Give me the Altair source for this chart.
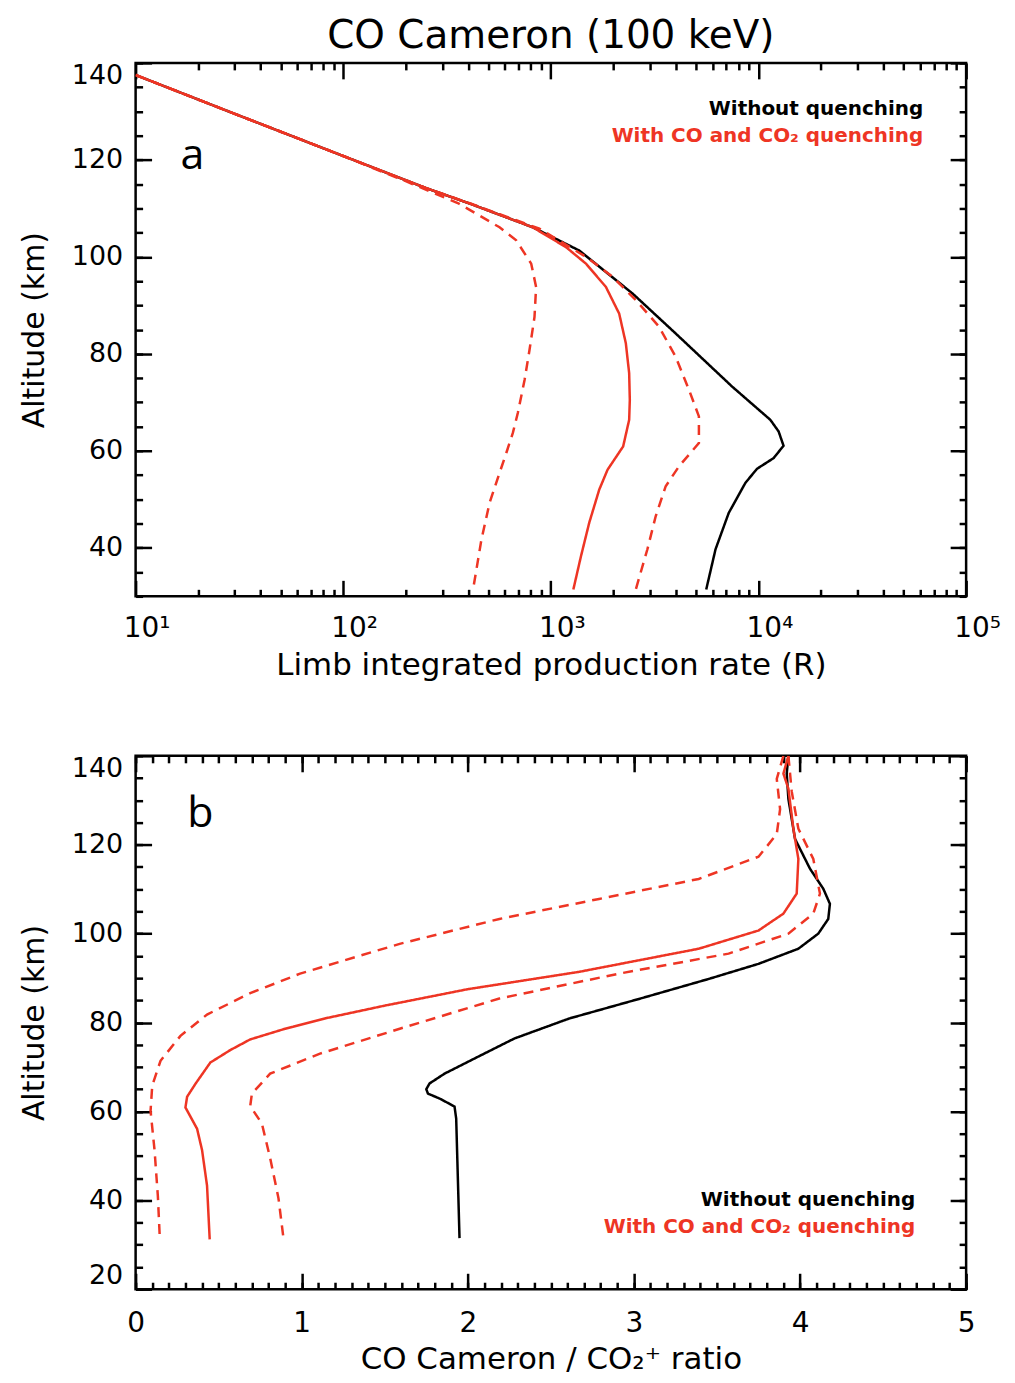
import altair as alt
import pandas as pd

# ---------------- Panel a: limb integrated production rate (R) ----------------
A_NOQ_X = [10, 30, 100, 250, 406, 818, 1371, 2473, 3991, 7464, 11400, 12500, 13200, 11830, 9840, 8650, 7190, 6210, 5600]
A_NOQ_Y = [137.5, 129.5, 120.8, 114.2, 111.0, 106.1, 101.3, 92.45, 84.2, 73.25, 66.4, 64.0, 61.05, 58.5, 56.3, 53.4, 47.2, 39.7, 31.4]

A_Q_X = [10, 30, 100, 250, 406, 818, 1183, 1476, 1841, 2133, 2296, 2383, 2400, 2383, 2229, 1875, 1710, 1531, 1397, 1283]
A_Q_Y = [137.5, 129.5, 120.8, 114.2, 111.0, 106.1, 102.0, 98.6, 93.8, 88.3, 82.2, 76.0, 70.5, 66.4, 60.9, 56.1, 52.0, 45.2, 38.3, 31.4]

A_QLO_X = [10, 30, 100, 200, 356, 566, 681, 804, 849, 834, 789, 747, 693, 656, 610, 566, 507, 463, 422]
A_QLO_Y = [137.5, 129.5, 120.8, 115.6, 111.1, 106.1, 103.4, 98.6, 93.8, 87.6, 80.8, 74.6, 67.8, 63.7, 59.55, 55.45, 49.3, 41.7, 31.4]

A_QHI_X = [10, 30, 100, 250, 410, 881, 1476, 1982, 2566, 3319, 3991, 4624, 5164, 5164, 4140, 3573, 3198, 2917, 2564]
A_QHI_Y = [137.5, 129.5, 120.8, 114.2, 111.0, 105.8, 100.0, 95.9, 91.1, 85.6, 79.4, 72.6, 67.1, 61.6, 56.8, 52.7, 46.5, 39.7, 31.4]

# ---------------- Panel b: CO Cameron / CO2+ ratio ----------------
B_NOQ_X = [3.93, 3.92, 3.93, 3.97, 4.06, 4.14, 4.18, 4.17, 4.11, 3.99, 3.75, 3.45, 3.03, 2.61, 2.28, 2.04, 1.86, 1.77, 1.75, 1.76, 1.83, 1.92, 1.93, 1.94, 1.95]
B_NOQ_Y = [140, 136, 130.3, 121.3, 114.6, 110.1, 106.7, 103.3, 100.0, 96.6, 93.2, 89.8, 85.3, 80.9, 76.4, 71.9, 68.5, 66.3, 65.0, 64.0, 62.9, 61.1, 58.4, 45, 31.5]

B_Q_X = [3.93, 3.90, 3.93, 3.96, 3.99, 3.98, 3.90, 3.75, 3.39, 2.67, 2.00, 1.50, 1.15, 0.90, 0.69, 0.57, 0.45, 0.36, 0.31, 0.30, 0.37, 0.40, 0.43, 0.446]
B_Q_Y = [140, 136, 132.6, 123.6, 116.8, 109, 104.5, 100.7, 96.6, 91.4, 87.5, 83.8, 81.0, 78.6, 76.2, 73.8, 71.0, 66.2, 63.3, 60.9, 56.1, 51.3, 43.3, 31.2]

B_QLO_X = [3.90, 3.86, 3.88, 3.86, 3.75, 3.39, 2.79, 2.19, 1.59, 0.99, 0.69, 0.43, 0.27, 0.15, 0.10, 0.09, 0.114, 0.134, 0.146]
B_QLO_Y = [140, 134.8, 128, 122.4, 117.3, 112.3, 107.8, 103.3, 97.7, 91, 86.6, 81.8, 77, 71.4, 65.8, 60.1, 51.3, 40.9, 31.2]

B_QHI_X = [3.93, 3.95, 3.99, 4.08, 4.12, 4.08, 3.93, 3.57, 2.91, 2.19, 1.59, 1.11, 0.81, 0.70, 0.69, 0.76, 0.81, 0.86, 0.89]
B_QHI_Y = [140, 132, 123.6, 116.8, 109, 104.5, 100, 95.5, 91, 85.4, 78.6, 73, 68.5, 64, 61.2, 57.3, 49.5, 40.5, 31.5]

SERIES = ["noq", "q", "qlo", "qhi"]
LEGEND = ["Without quenching", "With CO and CO\u2082 quenching"]

A_X_MAJOR = [10, 100, 1000, 10000, 100000]
A_X_MINOR = [m * d for d in [10, 100, 1000, 10000] for m in range(2, 10)]
A_Y_MAJOR = [40, 60, 80, 100, 120, 140]
A_Y_MINOR = list(range(30, 141, 5))
B_X_MAJOR = [0, 1, 2, 3, 4, 5]
B_X_MINOR = [round(i * 0.1, 1) for i in range(0, 51)]
B_Y_MAJOR = [20, 40, 60, 80, 100, 120, 140]
B_Y_MINOR = list(range(20, 141, 5))

RED = "#ee3524"
FONT = "DejaVu Sans"


def make_df(xs_list, ys_list):
    rows = []
    for name, xs, ys in zip(SERIES, xs_list, ys_list):
        for i, (xv, yv) in enumerate(zip(xs, ys)):
            rows.append({"series": name, "i": i, "x": xv, "alt": yv})
    return pd.DataFrame(rows)


def axis(orient, values, size, labels=False, **kw):
    return alt.Axis(orient=orient, values=values, offset=-size, tickSize=size,
                    domain=False, grid=False, labels=labels, ticks=True,
                    tickColor="black", tickWidth=2.5, **kw)


def panel(df, xscale, yscale, xmaj, xmin, ymaj, ymin, xtitle, xlabelexpr,
          xlabelpad, xlabeloff, letter, letter_pos, legend_pos, title=None):
    base = alt.Chart(df)
    xmain = axis("bottom", xmaj, 16, labels=True, title=xtitle,
                 labelFontSize=28, labelPadding=xlabelpad, labelFlush=False,
                 labelOffset=xlabeloff,
                 labelOverlap=False, titleFontSize=31, titleFontWeight="normal",
                 titlePadding=8, labelExpr=xlabelexpr, labelColor="black",
                 titleColor="black", labelFont=FONT, titleFont=FONT)
    ymain = axis("left", ymaj, 16, labels=True, title="Altitude (km)",
                 labelFontSize=27, labelPadding=13, labelFlush=True,
                 labelOverlap=False, titleFontSize=30, titleFontWeight="normal",
                 titlePadding=22, labelColor="black", titleColor="black",
                 labelFont=FONT, titleFont=FONT)
    lines = base.mark_line(strokeWidth=2.5, clip=True).encode(
        x=alt.X("x:Q", scale=xscale, axis=xmain),
        y=alt.Y("alt:Q", scale=yscale, axis=ymain),
        color=alt.Color("series:N", scale=alt.Scale(domain=SERIES, range=["black", RED, RED, RED]), legend=None),
        strokeDash=alt.StrokeDash("series:N", scale=alt.Scale(domain=SERIES, range=[[1, 0], [1, 0], [10, 7], [10, 7]]), legend=None),
        order="i:Q",
    )
    g1 = base.mark_point(opacity=0).encode(
        x=alt.X("x:Q", scale=xscale, axis=axis("bottom", xmin, 7, title=None)),
        y=alt.Y("alt:Q", scale=yscale, axis=axis("left", ymin, 7, title=None)),
    )
    g2 = base.mark_point(opacity=0).encode(
        x=alt.X("x:Q", scale=xscale, axis=axis("top", xmaj, 16, title=None)),
        y=alt.Y("alt:Q", scale=yscale, axis=axis("right", ymaj, 16, title=None)),
    )
    g3 = base.mark_point(opacity=0).encode(
        x=alt.X("x:Q", scale=xscale, axis=axis("top", xmin, 7, title=None)),
        y=alt.Y("alt:Q", scale=yscale, axis=axis("right", ymin, 7, title=None)),
    )
    let = alt.Chart(pd.DataFrame({"t": [letter]})).mark_text(
        font="Open Sans", fontSize=43, align="center", baseline="alphabetic", color="black"
    ).encode(text="t:N", x=alt.value(letter_pos[0]), y=alt.value(letter_pos[1]))
    leg1 = alt.Chart(pd.DataFrame({"t": [LEGEND[0]]})).mark_text(
        font=FONT, fontSize=20, fontWeight="bold", align="right", baseline="alphabetic", color="black"
    ).encode(text="t:N", x=alt.value(legend_pos[0]), y=alt.value(legend_pos[1]))
    leg2 = alt.Chart(pd.DataFrame({"t": [LEGEND[1]]})).mark_text(
        font=FONT, fontSize=20, fontWeight="bold", align="right", baseline="alphabetic", color=RED
    ).encode(text="t:N", x=alt.value(legend_pos[0]), y=alt.value(legend_pos[1] + 27))
    props = dict(width=833, height=535)
    if title is not None:
        props["title"] = title
    return alt.layer(lines, g1, g2, g3, let, leg1, leg2).resolve_axis(
        x="independent", y="independent").properties(**props)


df_a = make_df([A_NOQ_X, A_Q_X, A_QLO_X, A_QHI_X], [A_NOQ_Y, A_Q_Y, A_QLO_Y, A_QHI_Y])
df_b = make_df([B_NOQ_X, B_Q_X, B_QLO_X, B_QHI_X], [B_NOQ_Y, B_Q_Y, B_QLO_Y, B_QHI_Y])

log_expr = "'10' + ['\u2070','\u00b9','\u00b2','\u00b3','\u2074','\u2075'][round(log(datum.value)/LN10)]"

panel_a = panel(
    df_a,
    alt.Scale(type="log", domain=[10, 100000], nice=False),
    alt.Scale(domain=[30, 140], nice=False, zero=False),
    A_X_MAJOR, A_X_MINOR, A_Y_MAJOR, A_Y_MINOR,
    "Limb integrated production rate (R)", log_expr, 18, 11,
    "a", (57, 106), (790, 52),
    title=alt.TitleParams("CO Cameron (100 keV)", font=FONT, fontSize=39,
                          fontWeight="normal", color="black", anchor="middle", offset=6),
)
panel_b = panel(
    df_b,
    alt.Scale(domain=[0, 5], nice=False, zero=False),
    alt.Scale(domain=[20, 140], nice=False, zero=False),
    B_X_MAJOR, B_X_MINOR, B_Y_MAJOR, B_Y_MINOR,
    "CO Cameron / CO\u2082\u207a ratio", "format(datum.value, 'd')", 20, 0,
    "b", (65, 71), (782, 452),
)

chart = alt.vconcat(panel_a, panel_b, spacing=70).properties(
    padding={"left": 10, "top": 5, "right": 5, "bottom": 5}
).configure(font=FONT).configure_view(stroke="black", strokeWidth=2.5)

chart.save("out.html", embed_options={"renderer": "svg", "actions": False})
